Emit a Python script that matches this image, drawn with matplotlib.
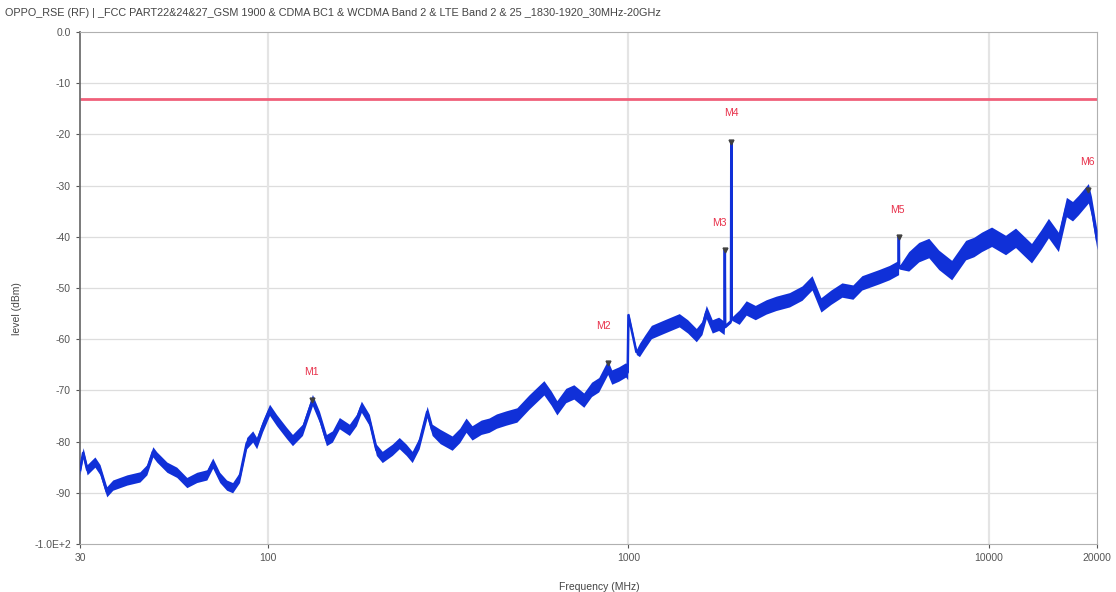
import numpy as np
import matplotlib
matplotlib.use("Agg")
import matplotlib.pyplot as plt
from matplotlib.ticker import FixedLocator, FixedFormatter, NullLocator

# --- data (MHz, dBm) ---
freq = [30.0, 30.6, 31.4, 33.0, 34.1, 35.6, 37.0, 40.5, 44.0, 46.0, 47.8, 49.0,
        52.3, 55.7, 59.4, 63.3, 67.5, 70.1, 73.3, 76.6, 79.6, 83.2,
        87.1, 90.5, 92.8, 96.4, 100.8, 105.4, 112.3, 116.7, 124.4, 132.6, 138.7,
        145.0, 150.6, 157.5, 167.9, 175.6, 181.3, 190.8, 199.5, 207.2, 220.9,
        231.0, 241.5, 250.9, 262.4, 276.1, 285.0,
        300.0, 323.9, 340.0, 354.1, 367.9, 390.0, 410.1, 430.0, 457.0, 490.0,
        529.2, 582.5, 610.0, 632.8, 670.0, 705.3, 751.6, 790.0,
        827.0, 876.0, 898.7, 940.0, 982.5,
        995.0, 1000.0,
        1052, 1073, 1110, 1158, 1250, 1384, 1460, 1543, 1600, 1645, 1709, 1780, 1844,
        1848, 1852, 1856, 1926, 1930, 1934,
        2030, 2123, 2250, 2412, 2570, 2800, 3034, 3234, 3424, 3650, 3916, 4200,
        4449, 4959, 5300, 5625,
        5634, 5643,
        6000, 6400, 6823, 7271, 7898, 8637, 9100, 9563, 10193, 11145, 11880, 13157,
        14000, 14660, 15625, 16448, 17100, 17757, 18925, 19300, 20000]
level = [-85.5, -82.2, -85.5, -84.0, -85.5, -89.8, -88.5, -87.5, -86.9, -85.5, -82.0, -83.0,
         -85.0, -86.0, -88.0, -87.0, -86.5, -84.2, -87.0, -88.5, -89.0, -87.0,
         -80.3, -79.0, -80.3, -77.0, -73.8, -75.8, -78.3, -79.7, -77.7, -71.9, -75.2,
         -79.7, -79.0, -76.4, -77.7, -75.8, -73.2, -75.8, -81.6, -83.0, -81.6,
         -80.3, -81.6, -83.0, -80.3, -74.2, -77.7,
         -79.0, -80.3, -78.8, -76.8, -78.3, -77.2, -76.8, -76.0, -75.4, -74.8,
         -72.3, -69.5, -71.5, -73.4, -71.0, -70.3, -71.9, -69.8,
         -68.9, -65.5, -67.4, -66.8, -66.0,
         -66.5, -55.3,
         -62.5, -62.1, -60.5, -58.6, -57.6, -56.3, -57.5, -59.2, -57.8, -54.7, -57.5, -57.0, -57.8,
         -57.5, -42.6, -57.5, -56.5, -21.5, -56.0,
         -55.7, -53.9, -54.8, -53.7, -53.0, -52.3, -51.0, -49.0, -53.3, -51.8, -50.4, -50.8,
         -49.0, -47.8, -47.0, -46.0,
         -40.0, -46.0,
         -44.8, -43.0, -42.2, -44.5, -46.5, -42.6, -42.0, -41.0, -40.0, -41.6, -40.2, -43.2,
         -40.5, -38.3, -41.0, -34.2, -35.0, -33.8, -31.5, -34.0, -40.6]
spread = [1.0] * 22 + [1.1] * 27 + [1.4] * 24 + [0.5] * 2 + [1.3] * 12 + \
         [0.3] * 6 + [1.4] * 16 + [0.3] * 2 + [1.9] * 21

markers = ["M1", "M2", "M3", "M4", "M5", "M6"]
marker_freq = [132.6, 876.0, 1852, 1930, 5634, 18925]
marker_level = [-71.9, -64.6, -42.6, -21.5, -40.0, -30.9]
label_offset = [(-1, 17), (-3, 23), (-4, 16), (0, 17), (-1, 16), (-1, 17)]

limit_level = -13.0

xticks = [30, 100, 1000, 10000, 20000]
xtick_labels = ["30", "100", "1000", "10000", "20000"]
yticks = [0, -10, -20, -30, -40, -50, -60, -70, -80, -90, -100]
ytick_labels = ["0.0", "-10", "-20", "-30", "-40", "-50", "-60", "-70", "-80", "-90", "-1.0E+2"]

title = ("OPPO_RSE (RF) | _FCC PART22&24&27_GSM 1900 & CDMA BC1 & WCDMA Band 2 "
         "& LTE Band 2 & 25 _1830-1920_30MHz-20GHz")

plt.rcParams['font.family'] = ['Liberation Sans', 'DejaVu Sans']

fig = plt.figure(figsize=(11.16, 5.92), dpi=100)
ax = fig.add_axes([80 / 1116, 1 - 544 / 592, 1017 / 1116, 512 / 592])

f = np.array(freq)
lv = np.array(level)
sp = np.array(spread)
blue = '#1030d8'
ax.fill_between(f, lv - sp, lv + sp, color=blue, lw=0, zorder=3)
ax.plot(f, lv, color=blue, lw=1.8, zorder=4)

ax.axhline(limit_level, color='#f0607a', lw=2, zorder=2)

for name, mf, ml, off in zip(markers, marker_freq, marker_level, label_offset):
    ax.plot([mf], [ml], marker='v', ms=3.5, color='#404040', zorder=5)
    ax.annotate(name, (mf, ml), xytext=off, textcoords='offset points',
                ha='center', va='bottom', fontsize=7.5, color='#e8304a')

ax.set_xscale('log')
ax.set_xlim(30, 20000)
ax.set_ylim(-100, 0)
ax.xaxis.set_major_locator(FixedLocator(xticks))
ax.xaxis.set_major_formatter(FixedFormatter(xtick_labels))
ax.xaxis.set_minor_locator(NullLocator())
ax.set_yticks(yticks)
ax.set_yticklabels(ytick_labels)
ax.tick_params(labelsize=7.5, colors='#555555', length=3, width=0.8)

# grid: horizontal every 10 dB, vertical only at decades
for y in yticks[1:-1]:
    ax.axhline(y, color='#dddddd', lw=0.9, zorder=1)
for x in [100, 1000, 10000]:
    ax.axvline(x, color='#e4e4e4', lw=1.6, zorder=1)

for s in ['top', 'right', 'bottom']:
    ax.spines[s].set_color('#b0b0b0')
ax.spines['left'].set_color('#707070')
ax.spines['left'].set_linewidth(1.3)

ax.set_xlabel('Frequency (MHz)', fontsize=7.5, color='#444444')
ax.xaxis.set_label_coords(0.511, -0.075)
ax.set_ylabel('level (dBm)', fontsize=7.5, color='#444444')
ax.yaxis.set_label_coords(-0.057, 0.46)

fig.text(5 / 1116, 1 - 13 / 592, title, fontsize=7.8, color='#444444', va='center', ha='left')

fig.savefig('out.png', dpi=100, facecolor='white')
